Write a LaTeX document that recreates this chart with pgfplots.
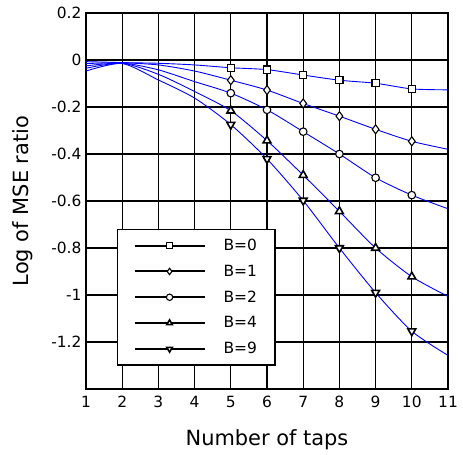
\documentclass[border=0pt]{standalone}
\usepackage{fontspec}
\setmainfont{DejaVu Sans}
\usepackage{pgfplots}
\pgfplotsset{compat=1.18}
\begin{document}
\begin{tikzpicture}
\pgfplotsset{
  legimg/.style={legend image code/.code={
    \draw[black, line width=2bp, solid] (0bp,0bp) -- (70bp,0bp);
    \draw[only marks, mark size=3.2bp] plot coordinates {(35bp,0bp)};}},
  bl/.style={blue, line width=0.9bp, smooth, tension=0.45, no marks, forget plot},
}
\begin{axis}[
  at={(0,0)}, anchor=south west,
  scale only axis, width=362bp, height=376bp,
  xmin=1, xmax=11, ymin=-1.4, ymax=0.2,
  xtick={1,2,...,11},
  ytick={-1.2,-1,-0.8,-0.6,-0.4,-0.2,0,0.2},
  yticklabels={-1.2,-1,-0.8,-0.6,-0.4,-0.2,0,0.2},
  xticklabels={1,2,3,4,5,6,7,8,9,10,11},
  major tick length=0pt,
  grid=major,
  grid style={black, line width=1.3bp},
  axis line style={line width=2bp},
  tick label style={font=\fontsize{15.5}{15.5}\selectfont},
  xticklabel style={yshift=-4bp},
  yticklabel style={xshift=-1bp},
  xlabel={Number of taps},
  ylabel={Log of MSE ratio},
  label style={font=\fontsize{21}{21}\selectfont},
  xlabel style={at={(axis description cs:0.5,-0.135)}, anchor=center},
  ylabel style={at={(axis description cs:-0.174,0.5)}, anchor=center, rotate=0},
  legend style={at={(rel axis cs:0.0856,0.4255)}, anchor=north west,
    draw=black, line width=1.2bp, fill=white,
    inner xsep=16bp, inner ysep=7.5bp, row sep=9bp,
    font=\fontsize{15.5}{15.5}\selectfont,
    /tikz/every odd column/.append style={column sep=16bp}},
  legend cell align=left,
]
% B=0
\addplot[bl] coordinates {(1,-0.007)(2,-0.011)(3,-0.014)(4,-0.021)(5,-0.033)(6,-0.041)(7,-0.064)(8,-0.086)(9,-0.099)(10,-0.123)(11,-0.127)};
\addplot[only marks, mark=square*, mark size=3.6bp, mark options={fill=white, draw=black, line width=1.1bp, solid}, legimg] coordinates {(5,-0.033)(6,-0.041)(7,-0.064)(8,-0.086)(9,-0.099)(10,-0.123)};
\addlegendentry{B=0}
% B=1
\addplot[bl] coordinates {(1,-0.015)(2,-0.012)(3,-0.021)(4,-0.047)(5,-0.086)(6,-0.128)(7,-0.185)(8,-0.239)(9,-0.295)(10,-0.346)(11,-0.38)};
\addplot[only marks, mark=diamond*, mark size=4.5bp, mark options={fill=white, draw=black, line width=1.1bp, solid}, legimg] coordinates {(5,-0.086)(6,-0.128)(7,-0.185)(8,-0.239)(9,-0.295)(10,-0.346)};
\addlegendentry{B=1}
% B=2
\addplot[bl] coordinates {(1,-0.025)(2,-0.013)(3,-0.042)(4,-0.092)(5,-0.141)(6,-0.212)(7,-0.305)(8,-0.40)(9,-0.501)(10,-0.575)(11,-0.633)};
\addplot[only marks, mark=*, mark size=3.8bp, mark options={fill=white, draw=black, line width=1.1bp, solid}, legimg] coordinates {(5,-0.141)(6,-0.212)(7,-0.305)(8,-0.40)(9,-0.501)(10,-0.575)};
\addlegendentry{B=2}
% B=4
\addplot[bl] coordinates {(1,-0.035)(2,-0.014)(3,-0.061)(4,-0.134)(5,-0.216)(6,-0.343)(7,-0.49)(8,-0.644)(9,-0.80)(10,-0.922)(11,-1.006)};
\addplot[only marks, mark=triangle*, mark size=4.5bp, mark options={fill=white, draw=black, line width=1.6bp, solid}, legimg] coordinates {(5,-0.216)(6,-0.343)(7,-0.49)(8,-0.644)(9,-0.80)(10,-0.922)};
\addlegendentry{B=4}
% B=9
\addplot[bl] coordinates {(1,-0.047)(2,-0.015)(3,-0.085)(4,-0.162)(5,-0.275)(6,-0.421)(7,-0.598)(8,-0.80)(9,-0.99)(10,-1.154)(11,-1.257)};
\addplot[only marks, mark=triangle*, mark size=4.5bp, mark options={rotate=180, fill=white, draw=black, line width=1.6bp, solid}, legimg] coordinates {(5,-0.275)(6,-0.421)(7,-0.598)(8,-0.80)(9,-0.99)(10,-1.154)};
\addlegendentry{B=9}
\end{axis}
\pgfresetboundingbox
\useasboundingbox (-86bp,-66bp) rectangle (377bp,389bp);
\end{tikzpicture}
\end{document}
